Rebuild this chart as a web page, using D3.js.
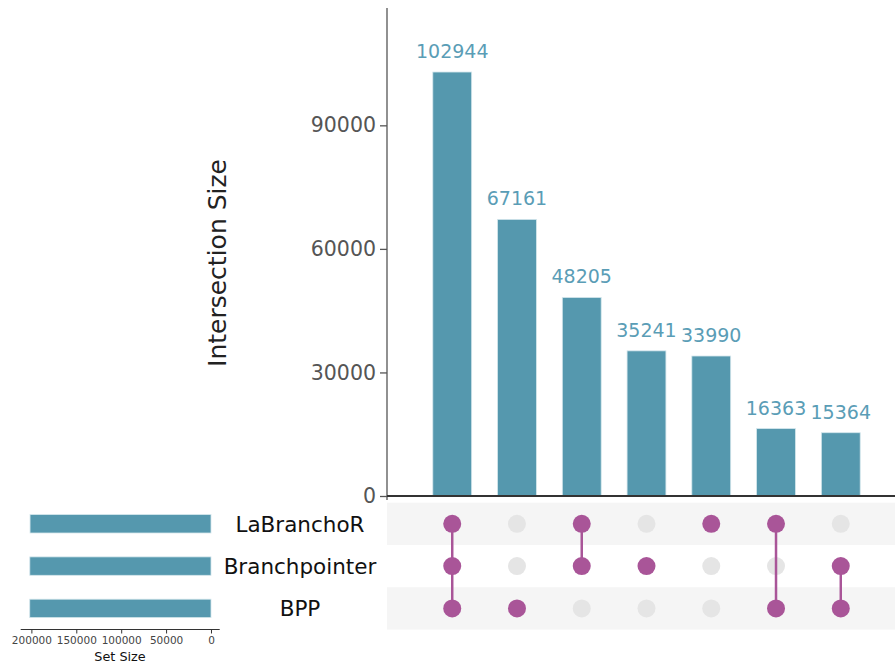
<!DOCTYPE html>
<html>
<head>
<meta charset="utf-8">
<script src="https://cdn.jsdelivr.net/npm/d3@7"></script>
<style>
  html, body { margin: 0; padding: 0; background: #fff; }
  svg { display: block; font-family: "DejaVu Sans", sans-serif; }
</style>
</head>
<body>
<svg id="chart" width="895" height="668"></svg>
<script>
// Sets shown as matrix rows (top to bottom) and their total sizes
const setNames = ["LaBranchoR", "Branchpointer", "BPP"];
const setSizes = [201502, 201754, 201832];

// Intersections, sorted by size; membership flags follow setNames order
const intersectionSizes = [102944, 67161, 48205, 35241, 33990, 16363, 15364];
const memberships = [
  [1, 1, 1],
  [0, 0, 1],
  [1, 1, 0],
  [0, 1, 0],
  [1, 0, 0],
  [1, 0, 1],
  [0, 1, 1]
];

const yTicks = [0, 30000, 60000, 90000];
const setSizeTicks = [0, 50000, 100000, 150000, 200000];

const barColor = "#5598ae";
const labelColor = "#5a9db6";
const dotOn = "#a95598";
const dotOff = "#e5e5e5";

const svg = d3.select("#chart");

// ---- layout
const plotLeft = 387, plotRight = 895;
const barTop = 8, barBase = 496;
const rowStep = 42.3;

const x = d3.scaleBand()
  .domain(d3.range(intersectionSizes.length))
  .range([432.8, 860.2])
  .paddingInner(0.4)
  .paddingOuter(0.0);

const y = d3.scaleLinear()
  .domain([0, 102944 * 1.151])
  .range([barBase, barTop]);

const rowY = d3.scalePoint()
  .domain(d3.range(setNames.length))
  .range([523.8, 523.8 + 2 * rowStep]);

// ---- matrix background stripes
const stripes = svg.append("g");
setNames.forEach((name, i) => {
  if (i % 2 === 0) {
    stripes.append("rect")
      .attr("x", plotLeft)
      .attr("y", rowY(i) - rowStep / 2)
      .attr("width", plotRight - plotLeft)
      .attr("height", rowStep)
      .attr("fill", "#f5f5f5");
  }
});

// ---- intersection bars
svg.append("g").selectAll("rect")
  .data(intersectionSizes)
  .join("rect")
  .attr("x", (d, i) => x(i))
  .attr("y", d => y(d))
  .attr("width", x.bandwidth())
  .attr("height", d => y(0) - y(d))
  .attr("fill", barColor)
  .attr("stroke", "#d4e6ec")
  .attr("stroke-width", 0.8);

svg.append("g").selectAll("text")
  .data(intersectionSizes)
  .join("text")
  .attr("x", (d, i) => x(i) + x.bandwidth() / 2)
  .attr("y", d => y(d) - 14)
  .attr("text-anchor", "middle")
  .attr("font-size", "19px")
  .attr("fill", labelColor)
  .text(d => d);

// ---- y axis
const yAxis = svg.append("g")
  .attr("transform", `translate(${plotLeft},0)`)
  .call(d3.axisLeft(y).tickValues(yTicks).tickSize(7).tickPadding(4).tickFormat(d3.format("d")));
yAxis.select(".domain").attr("d", `M0,${barTop}V${barBase + 4}`)
  .attr("stroke", "#555").attr("stroke-width", 1.3);
yAxis.selectAll(".tick line").attr("stroke", "#555").attr("stroke-width", 1.3);
yAxis.selectAll(".tick text")
  .attr("font-size", "20.5px")
  .attr("fill", "#555")
  .attr("font-family", "DejaVu Sans, sans-serif");

// baseline under bars
svg.append("line")
  .attr("x1", plotLeft).attr("x2", plotRight)
  .attr("y1", barBase).attr("y2", barBase)
  .attr("stroke", "#333").attr("stroke-width", 1.8);

svg.append("text")
  .attr("transform", `translate(226,263) rotate(-90)`)
  .attr("text-anchor", "middle")
  .attr("font-size", "25px")
  .attr("fill", "#222")
  .text("Intersection Size");

// ---- matrix: grey dots first, then connectors, then member dots on top
const matrix = svg.append("g");
const offLayer = matrix.append("g");
const lineLayer = matrix.append("g");
const onLayer = matrix.append("g");
memberships.forEach((m, j) => {
  const cx = x(j) + x.bandwidth() / 2;
  const active = m.map((v, i) => v ? i : null).filter(v => v !== null);
  if (active.length > 1) {
    lineLayer.append("line")
      .attr("x1", cx).attr("x2", cx)
      .attr("y1", rowY(d3.min(active)))
      .attr("y2", rowY(d3.max(active)))
      .attr("stroke", dotOn)
      .attr("stroke-width", 2.5);
  }
  m.forEach((v, i) => {
    (v ? onLayer : offLayer).append("circle")
      .attr("cx", cx)
      .attr("cy", rowY(i))
      .attr("r", 9)
      .attr("fill", v ? dotOn : dotOff);
  });
});

// ---- set names
svg.append("g").selectAll("text")
  .data(setNames)
  .join("text")
  .attr("x", 300)
  .attr("y", (d, i) => rowY(i))
  .attr("dy", "0.36em")
  .attr("text-anchor", "middle")
  .attr("font-size", "21.5px")
  .attr("fill", "#111")
  .text(d => d);

// ---- set size bars
const sx = d3.scaleLinear()
  .domain([211900, -9700])
  .range([20.7, 219.7]);

svg.append("g").selectAll("rect")
  .data(setSizes)
  .join("rect")
  .attr("x", d => sx(d))
  .attr("y", (d, i) => rowY(i) - 9.2)
  .attr("width", d => sx(0) - sx(d))
  .attr("height", 18.4)
  .attr("fill", barColor)
  .attr("stroke", "#d4e6ec")
  .attr("stroke-width", 0.8);

const sAxis = svg.append("g")
  .attr("transform", "translate(0,629.5)")
  .call(d3.axisBottom(sx).tickValues(setSizeTicks).tickSize(4).tickPadding(3).tickFormat(d3.format("d")));
sAxis.select(".domain").attr("d", "M20.7,0H219.7").attr("stroke", "#333").attr("stroke-width", 1.2);
sAxis.selectAll(".tick line").attr("stroke", "#333");
sAxis.selectAll(".tick text")
  .attr("font-size", "10.5px")
  .attr("fill", "#444")
  .attr("font-family", "DejaVu Sans, sans-serif");

svg.append("text")
  .attr("x", 120)
  .attr("y", 661)
  .attr("text-anchor", "middle")
  .attr("font-size", "12.8px")
  .attr("fill", "#111")
  .text("Set Size");
</script>
</body>
</html>
